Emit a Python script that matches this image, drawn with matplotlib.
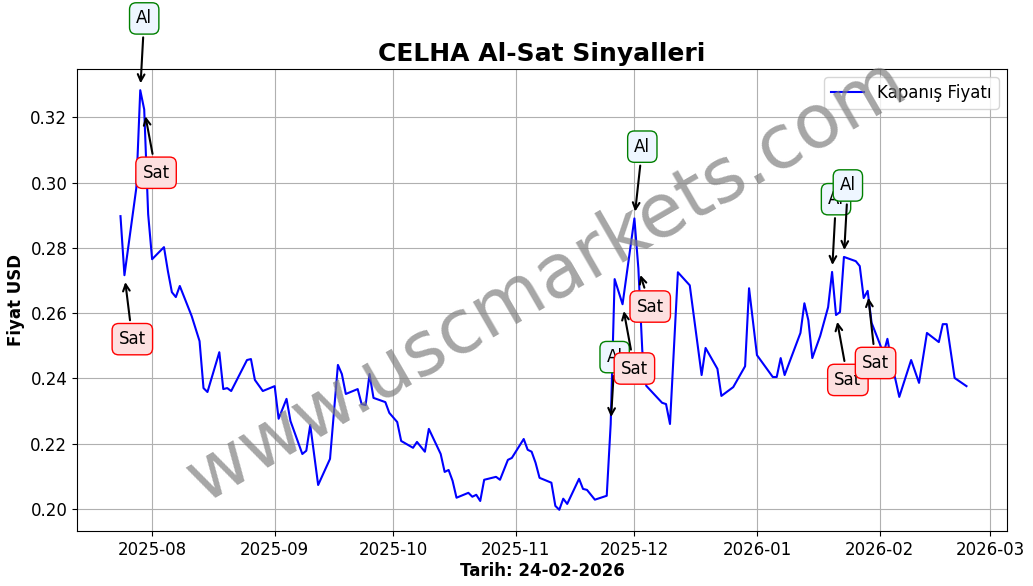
import matplotlib
matplotlib.use("Agg")
import matplotlib.pyplot as plt
import matplotlib.dates as mdates
import pandas as pd

dates = ["2025-07-24","2025-07-25","2025-07-28","2025-07-29","2025-07-30","2025-07-31","2025-08-01","2025-08-04","2025-08-05","2025-08-06",
"2025-08-07","2025-08-08","2025-08-11","2025-08-13","2025-08-14","2025-08-15","2025-08-18","2025-08-19","2025-08-20","2025-08-21",
"2025-08-25","2025-08-26","2025-08-27","2025-08-29","2025-09-01","2025-09-02","2025-09-04","2025-09-05","2025-09-08","2025-09-09",
"2025-09-10","2025-09-12","2025-09-15","2025-09-17","2025-09-18","2025-09-19","2025-09-22","2025-09-23","2025-09-24","2025-09-25",
"2025-09-26","2025-09-29","2025-09-30","2025-10-02","2025-10-03","2025-10-06","2025-10-07","2025-10-09","2025-10-10","2025-10-13",
"2025-10-14","2025-10-15","2025-10-16","2025-10-17","2025-10-20","2025-10-21","2025-10-22","2025-10-23","2025-10-24","2025-10-27",
"2025-10-28","2025-10-30","2025-10-31","2025-11-03","2025-11-04","2025-11-05","2025-11-06","2025-11-07","2025-11-10","2025-11-11",
"2025-11-12","2025-11-13","2025-11-14","2025-11-17","2025-11-18","2025-11-19","2025-11-21","2025-11-24","2025-11-25","2025-11-26",
"2025-11-28","2025-12-01","2025-12-02","2025-12-03","2025-12-04","2025-12-08","2025-12-09","2025-12-10","2025-12-12","2025-12-15",
"2025-12-18","2025-12-19","2025-12-22","2025-12-23","2025-12-26","2025-12-29","2025-12-30","2026-01-01","2026-01-05","2026-01-06",
"2026-01-07","2026-01-08","2026-01-12","2026-01-13","2026-01-14","2026-01-15","2026-01-17","2026-01-19","2026-01-20","2026-01-21",
"2026-01-22","2026-01-23","2026-01-26","2026-01-27","2026-01-28","2026-01-29","2026-01-30","2026-02-01","2026-02-02","2026-02-03",
"2026-02-04","2026-02-06","2026-02-09","2026-02-11","2026-02-13","2026-02-16","2026-02-17","2026-02-18","2026-02-20","2026-02-23"]
prices = [0.2897,0.2716,0.2983,0.3283,0.3224,0.2903,0.2765,0.2802,0.2728,0.2664,
0.2649,0.2683,0.2591,0.2514,0.2370,0.2358,0.2480,0.2367,0.2370,0.2361,
0.2456,0.2459,0.2395,0.2361,0.2376,0.2276,0.2337,0.2269,0.2168,0.2178,
0.2257,0.2073,0.2153,0.2441,0.2413,0.2352,0.2367,0.2321,0.2318,0.2413,
0.2340,0.2327,0.2294,0.2266,0.2208,0.2187,0.2205,0.2175,0.2245,0.2168,
0.2113,0.2119,0.2086,0.2034,0.2049,0.2037,0.2043,0.2024,0.2089,0.2098,
0.2089,0.2150,0.2156,0.2214,0.2181,0.2175,0.2141,0.2095,0.2080,0.2009,
0.1997,0.2031,0.2015,0.2092,0.2061,0.2058,0.2028,0.2040,0.2260,0.2704,
0.2627,0.2890,0.2737,0.2484,0.2377,0.2325,0.2321,0.2260,0.2725,0.2685,
0.2410,0.2493,0.2429,0.2346,0.2373,0.2437,0.2676,0.2471,0.2404,0.2404,
0.2462,0.2410,0.2539,0.2630,0.2578,0.2462,0.2530,0.2618,0.2726,0.2594,
0.2603,0.2772,0.2759,0.2744,0.2646,0.2668,0.2570,0.2508,0.2475,0.2521,
0.2453,0.2343,0.2456,0.2386,0.2539,0.2511,0.2566,0.2566,0.2401,0.2376]

sig_labels = ["Al","Sat","Sat","Al","Sat","Al","Sat","Al","Al","Sat","Sat"]
sig_dates = ["2025-07-29","2025-07-25","2025-07-30","2025-11-25","2025-11-28","2025-12-01","2025-12-02","2026-01-20","2026-01-23","2026-01-21","2026-01-29"]
sig_prices = [0.3283,0.2716,0.3224,0.2260,0.2627,0.2890,0.2737,0.2726,0.2772,0.2594,0.2668]
txt_dates = ["2025-07-30","2025-07-27","2025-08-02","2025-11-26","2025-12-01","2025-12-03","2025-12-05","2026-01-21","2026-01-24","2026-01-24","2026-01-31"]
txt_prices = [0.3503,0.2520,0.3030,0.2465,0.2430,0.3110,0.2620,0.2949,0.2991,0.2395,0.2447]

x = pd.to_datetime(dates)
fig = plt.figure(figsize=(10.33, 5.86), dpi=100)
ax = fig.add_axes([77/1033, 1-531/586, 930/1033, 462/586])
ax.plot(x, prices, color="blue", lw=1.5, label="Kapanış Fiyatı")
for lab, d, p, td, tp in zip(sig_labels, sig_dates, sig_prices, txt_dates, txt_prices):
    buy = lab == "Al"
    ax.annotate(lab, xy=(pd.Timestamp(d), p), xytext=(pd.Timestamp(td), tp),
                ha="center", va="center", fontsize=12,
                bbox=dict(boxstyle="round,pad=0.4", fc="#eef6ff" if buy else "#fde0e0",
                          ec="green" if buy else "red"),
                arrowprops=dict(arrowstyle="->", color="black", lw=1.5, shrinkB=5),
                annotation_clip=False)
ax.set_ylim(0.1932, 0.3348)
ax.set_xlim(pd.Timestamp("2025-07-13"), pd.Timestamp("2026-03-05 06:00"))
ax.xaxis.set_major_locator(mdates.MonthLocator())
ax.xaxis.set_major_formatter(mdates.DateFormatter("%Y-%m"))
ax.grid(True, color="#b0b0b0")
ax.tick_params(labelsize=12)
ax.set_title("CELHA Al-Sat Sinyalleri", fontsize=18, fontweight="bold")
ax.set_xlabel("Tarih: 24-02-2026", fontsize=12, fontweight="bold", labelpad=2)
ax.set_ylabel("Fiyat USD", fontsize=12, fontweight="bold")
ax.legend(loc="upper right", fontsize=12)
fig.text(0.53, 0.52, "www.uscmarkets.com", fontsize=54, color="gray", alpha=0.7,
         rotation=30, ha="center", va="center")
fig.savefig("out.png", dpi=100)
